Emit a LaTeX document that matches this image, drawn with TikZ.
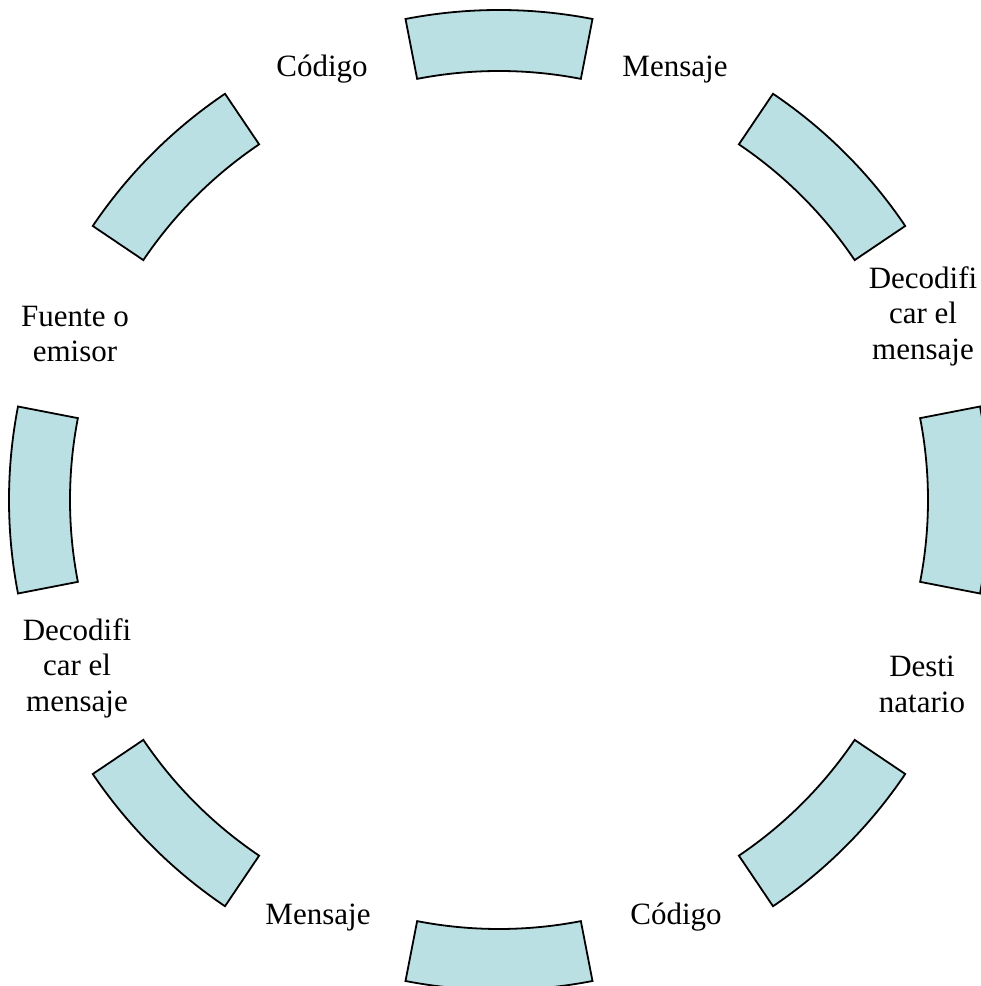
\documentclass[tikz,border=0pt]{standalone}
\usepackage{fontspec}
\setmainfont{Liberation Serif}
\usetikzlibrary{calc}
\definecolor{segfill}{RGB}{187,224,227}
\tikzset{
  segment/.style={draw=black, fill=segfill, line width=1.8pt, line join=miter},
  lbl/.style={inner sep=0pt, align=center, font=\fontsize{31}{35.5}\selectfont}
}
\begin{document}
\begin{tikzpicture}[x=1pt,y=1pt]
\useasboundingbox (0,0) rectangle (981,986);
\clip (0,0) rectangle (981,986);
\coordinate (c) at (499,486);
\foreach \a in {0,45,...,315}{
  \draw[segment] ($(c)+(\a-11:490)$) arc[start angle=\a-11, end angle=\a+11, radius=490]
     -- ($(c)+(\a+11:429)$) arc[start angle=\a+11, end angle=\a-11, radius=429] -- cycle;
}
\node[lbl, anchor=base] (codigo1) at (322,909) {Código};
\node[lbl, anchor=base] (mensaje1) at (675,909) {Mensaje};
\node[lbl, anchor=north] (decod1) at (923,720) {Decodifi\\car el\\mensaje};
\node[lbl, anchor=north] (fuente) at (75,680) {Fuente o\\emisor};
\node[lbl, anchor=north] (decod2) at (77,368) {Decodifi\\car el\\mensaje};
\node[lbl, anchor=north] (desti) at (922,330) {Desti\\natario};
\node[lbl, anchor=base] (mensaje2) at (318,61) {Mensaje};
\node[lbl, anchor=base] (codigo2) at (676,61) {Código};
\end{tikzpicture}
\end{document}
